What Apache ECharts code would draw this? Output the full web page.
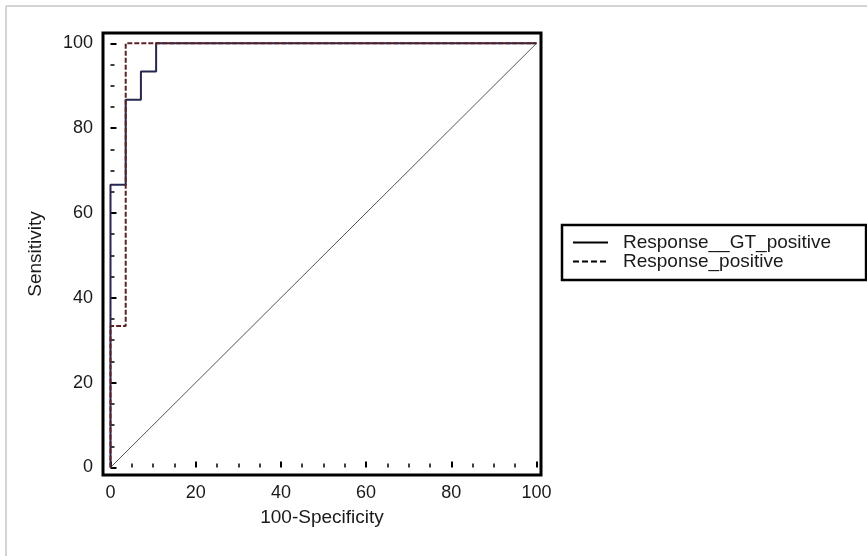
<!DOCTYPE html>
<html>
<head>
<meta charset="utf-8">
<script src="https://cdn.jsdelivr.net/npm/echarts@6/dist/echarts.min.js"></script>
<style>
html,body{margin:0;padding:0;background:#fff;}
#chart{width:867px;height:556px;}
</style>
</head>
<body>
<div id="chart"></div>
<script>
// ROC data
const gtX = [0, 0, 3.57, 3.57, 7.14, 7.14, 10.71, 10.71, 100];
const gtY = [0, 66.67, 66.67, 86.67, 86.67, 93.33, 93.33, 100, 100];
const posX = [0, 0, 3.57, 3.57, 100];
const posY = [0, 33.33, 33.33, 100, 100];
const diagX = [0, 100];
const diagY = [0, 100];
const seriesNames = ['Response__GT_positive', 'Response_positive'];
const majorTicks = [0, 20, 40, 60, 80, 100];
const minorTicks = [5, 10, 15, 25, 30, 35, 45, 50, 55, 65, 70, 75, 85, 90, 95];
const xTitle = '100-Specificity';
const yTitle = 'Sensitivity';

const pairs = (xs, ys) => xs.map((x, i) => [x, ys[i]]);
const FONT = '"Liberation Sans", Arial, sans-serif';

const chart = echarts.init(document.getElementById('chart'), null, {renderer: 'canvas'});

const xMin = -1.76, xMax = 101.06, yMin = -1.77, yMax = 102.43;

function mainAxis(isX) {
  return {
    type: 'value',
    gridIndex: 0,
    position: isX ? 'bottom' : 'left',
    min: isX ? xMin : yMin,
    max: isX ? xMax : yMax,
    name: isX ? xTitle : yTitle,
    nameLocation: 'middle',
    nameGap: isX ? 33 : 58,
    nameRotate: isX ? 0 : 90,
    nameTextStyle: {fontSize: 19, color: '#1a1a1a', fontFamily: FONT},
    axisLine: {show: false},
    splitLine: {show: false},
    axisTick: {show: true, inside: true, length: 6, customValues: majorTicks, lineStyle: {color: '#000', width: 2}},
    axisLabel: {show: true, customValues: majorTicks, fontSize: 18, color: '#1a1a1a', fontFamily: FONT, margin: isX ? 9 : 10}
  };
}
function minorAxis(isX) {
  return {
    type: 'value',
    gridIndex: 0,
    position: isX ? 'bottom' : 'left',
    min: isX ? xMin : yMin,
    max: isX ? xMax : yMax,
    axisLine: {show: false},
    splitLine: {show: false},
    axisTick: {show: true, inside: true, length: 4, customValues: minorTicks, lineStyle: {color: '#000', width: 1.5}},
    axisLabel: {show: false}
  };
}

const option = {
  backgroundColor: '#fff',
  animation: false,
  grid: {
    left: 103, top: 33, right: 326, bottom: 81,
    show: true, borderColor: '#000', borderWidth: 3, backgroundColor: '#fff'
  },
  xAxis: [mainAxis(true), minorAxis(true)],
  yAxis: [mainAxis(false), minorAxis(false)],
  legend: {
    orient: 'vertical',
    left: 562, top: 225,
    padding: [8, 35, 9, 10],
    itemGap: 0,
    itemWidth: 35,
    itemHeight: 14,
    borderColor: '#000',
    borderWidth: 2.5,
    backgroundColor: '#fff',
    textStyle: {fontSize: 19, color: '#1a1a1a', fontFamily: FONT, lineHeight: 19, padding: [0, 0, 0, 10]},
    data: [
      {name: seriesNames[0], itemStyle: {opacity: 0}, lineStyle: {color: '#000', width: 2, type: 'solid'}},
      {name: seriesNames[1], itemStyle: {opacity: 0}, lineStyle: {color: '#000', width: 2, type: [6, 3]}}
    ]
  },
  graphic: [
    {type: 'line', shape: {x1: 6, y1: 6, x2: 867, y2: 6}, style: {stroke: '#c4c4c4', lineWidth: 1.5}, silent: true},
    {type: 'line', shape: {x1: 6, y1: 6, x2: 6, y2: 556}, style: {stroke: '#c4c4c4', lineWidth: 1.5}, silent: true}
  ],
  series: [
    {
      name: 'diagonal', type: 'line', xAxisIndex: 0, yAxisIndex: 0,
      data: pairs(diagX, diagY), symbol: 'none', silent: true,
      lineStyle: {color: '#555', width: 1}, z: 1
    },
    {
      name: seriesNames[0], type: 'line', xAxisIndex: 0, yAxisIndex: 0,
      data: pairs(gtX, gtY), symbol: 'none',
      lineStyle: {color: '#262650', width: 2}, itemStyle: {color: '#262650'}, z: 2
    },
    {
      name: seriesNames[1], type: 'line', xAxisIndex: 0, yAxisIndex: 0,
      data: pairs(posX, posY), symbol: 'none',
      lineStyle: {color: '#5c2226', width: 2, type: [5, 2]}, itemStyle: {color: '#5c2226'}, z: 3
    }
  ]
};
chart.setOption(option);
</script>
</body>
</html>
